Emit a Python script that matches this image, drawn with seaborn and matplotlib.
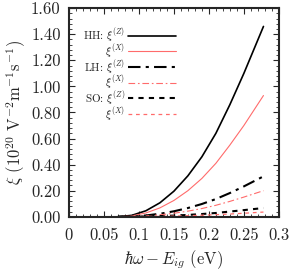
import numpy as np
import pandas as pd
import matplotlib
matplotlib.use('Agg')
import matplotlib.pyplot as plt
from matplotlib.ticker import MultipleLocator, FixedLocator, FixedFormatter
import seaborn as sns

# photon energy above gap (eV)
energy = [0.07, 0.09, 0.11, 0.13, 0.15, 0.17, 0.19, 0.21, 0.23, 0.25, 0.278]

# xi in units of 1e20 V^-2 m^-1 s^-1
hh_z = [0.0, 0.011, 0.046, 0.107, 0.196, 0.314, 0.46, 0.64, 0.86, 1.10, 1.46]
hh_x = [0.0, 0.007, 0.029, 0.068, 0.125, 0.20, 0.294, 0.41, 0.55, 0.70, 0.93]
lh_z = [0.0, 0.002, 0.010, 0.023, 0.042, 0.067, 0.098, 0.136, 0.182, 0.233, 0.31]
lh_x = [0.0, 0.0015, 0.006, 0.015, 0.027, 0.043, 0.063, 0.088, 0.118, 0.151, 0.20]
so_z = [0.0, 0.0005, 0.002, 0.005, 0.009, 0.014, 0.021, 0.029, 0.040, 0.051, 0.067]
so_x = [0.0, 0.0003, 0.001, 0.003, 0.005, 0.008, 0.012, 0.016, 0.021, 0.027, 0.036]

labels = [r'HH: $\xi^{(Z)}$', r'$\xi^{(X)}$',
          r'LH: $\xi^{(Z)}$', r'$\xi^{(X)}$',
          r'SO: $\xi^{(Z)}$', r'$\xi^{(X)}$']

xticks = [0, 0.05, 0.1, 0.15, 0.2, 0.25, 0.3]
xticklabels = ['0', '0.05', '0.1', '0.15', '0.2', '0.25', '0.3']

sns.set_style('ticks')
plt.rcParams['font.family'] = ['cmr10', 'DejaVu Serif']
plt.rcParams['mathtext.fontset'] = 'cm'
plt.rcParams['axes.unicode_minus'] = False

fig = plt.figure(figsize=(2.92, 2.73), dpi=100)
ax = fig.add_axes([0.236, 0.206, 0.719, 0.764])

red = '#ff6b6b'
styles = [
    (hh_z, 'black', '-', 1.2),
    (hh_x, red, '-', 0.8),
    (lh_z, 'black', (0, (6, 2.5, 1.5, 2.5)), 1.5),
    (lh_x, red, (0, (6, 2.5, 1.5, 2.5)), 0.8),
    (so_z, 'black', (0, (2.5, 2.5)), 1.5),
    (so_x, red, (0, (3, 3)), 0.9),
]

for (vals, col, ls, lw), lab in zip(styles, labels):
    df = pd.DataFrame({'E': energy, 'xi': vals})
    sns.lineplot(data=df, x='E', y='xi', ax=ax, color=col, linestyle=ls,
                 linewidth=lw, label=lab)

ax.set_xlim(0, 0.3)
ax.set_ylim(0, 1.6)
ax.xaxis.set_major_locator(FixedLocator(xticks))
ax.xaxis.set_major_formatter(FixedFormatter(xticklabels))
ax.xaxis.set_minor_locator(MultipleLocator(0.01))
ax.yaxis.set_major_locator(MultipleLocator(0.2))
ax.yaxis.set_major_formatter(plt.FormatStrFormatter('%.2f'))
ax.yaxis.set_minor_locator(MultipleLocator(0.04))

ax.tick_params(which='both', direction='in', top=True, right=True, labelsize=12)
ax.tick_params(which='major', length=4, width=0.8, pad=6)
ax.tick_params(axis='x', which='major', pad=8)
ax.tick_params(which='minor', length=2, width=0.6)
for sp in ax.spines.values():
    sp.set_linewidth(1.5)

ax.set_xlabel(r'$\hbar\omega - E_{ig}$ (eV)', fontsize=12, labelpad=4)
ax.set_ylabel(r'$\xi$ (10$^{20}$ V$^{-2}$m$^{-1}$s$^{-1}$)', fontsize=12, labelpad=2)

leg = ax.legend(loc='upper left', bbox_to_anchor=(0.045, 0.935), markerfirst=False,
                frameon=False, fontsize=8, handlelength=4.3, handletextpad=0.3,
                labelspacing=-0.2, borderaxespad=0.0)

fig.savefig('out.png', dpi=100)
